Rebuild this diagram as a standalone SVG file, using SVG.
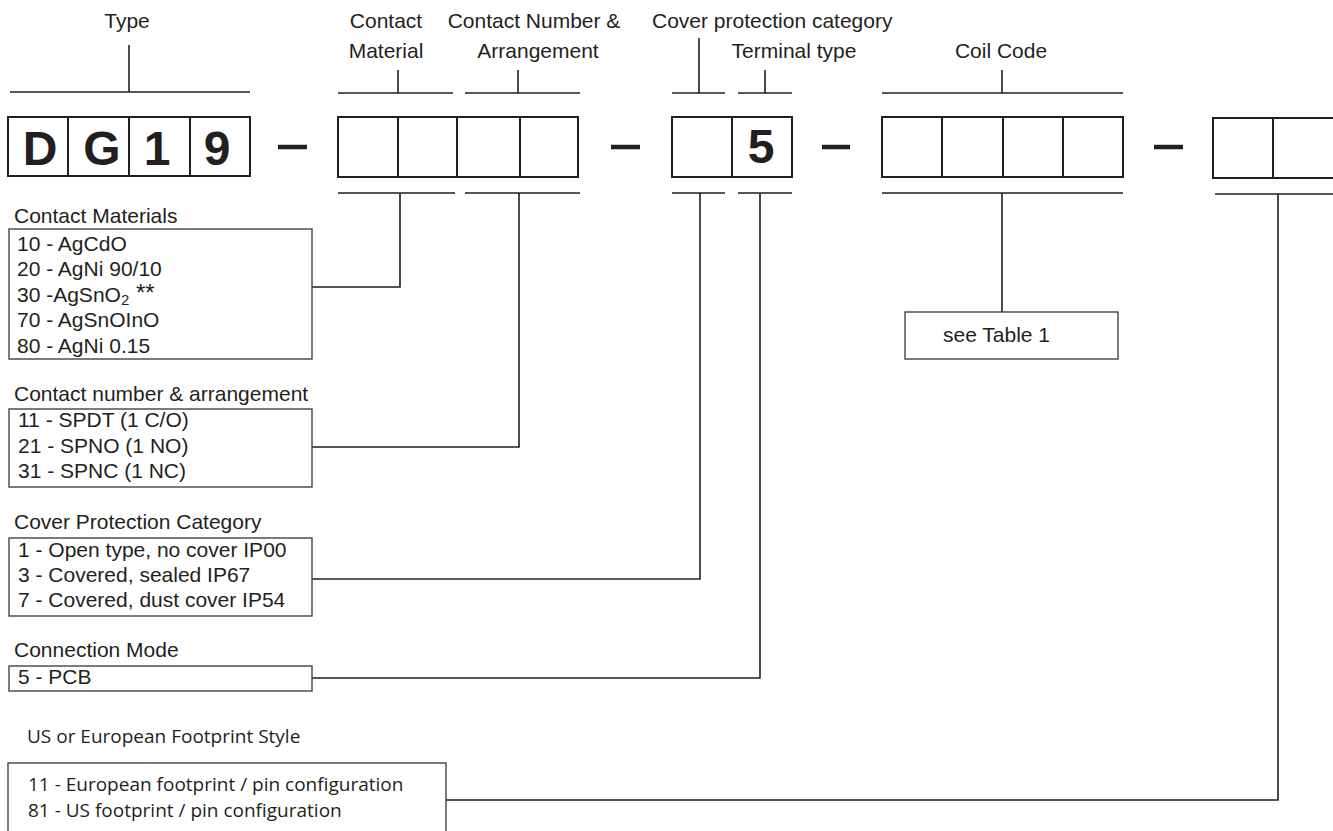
<svg xmlns="http://www.w3.org/2000/svg" width="1333" height="831" viewBox="0 0 1333 831">
<style>
.lbl{font-family:"Liberation Sans",Arial,sans-serif;font-size:21px;fill:#231f20}
.mid{text-anchor:middle}
.big{font-family:"Liberation Sans",Arial,sans-serif;font-size:48px;font-weight:bold;fill:#231f20;text-anchor:middle}
.hum{font-family:"Open Sans","Noto Sans",sans-serif;font-size:19px;fill:#231f20}
.cell{fill:#fff;stroke:#231f20;stroke-width:2}
.tbox{fill:#fff;stroke:#444;stroke-width:1.4}
.ln{fill:none;stroke:#231f20;stroke-width:1.6}
.dash{stroke:#231f20;stroke-width:4.5}
</style>
<rect width="1333" height="831" fill="#fff"/>

<g id="top-labels">
<text class="lbl mid" x="127" y="28">Type</text>
<text class="lbl mid" x="386" y="28">Contact</text>
<text class="lbl mid" x="386" y="58">Material</text>
<text class="lbl mid" x="534" y="28">Contact Number &amp;</text>
<text class="lbl mid" x="538" y="58">Arrangement</text>
<text class="lbl" x="652" y="28">Cover protection category</text>
<text class="lbl mid" x="794" y="58">Terminal type</text>
<text class="lbl mid" x="1001" y="58">Coil Code</text>
</g>

<g id="brackets" class="ln">
<path d="M129 45V92M10 92H250"/>
<path d="M398 70V93M338 93H453"/>
<path d="M518 70V93M465 93H580"/>
<path d="M699 38V93M672 93H725"/>
<path d="M765 70V93M738 93H792"/>
<path d="M1002 70V93M882 93H1123"/>
</g>

<g id="code-type">
<rect class="cell" x="8" y="117" width="242" height="59"/>
<path class="ln" style="stroke-width:2" d="M68 117V176M129 117V176M190 117V176"/>
<text class="big" x="40" y="165">D</text>
<text class="big" x="102" y="165">G</text>
<text class="big" x="157" y="165">1</text>
<text class="big" x="217" y="165">9</text>
</g>

<g id="code-contact">
<rect class="cell" x="338" y="117" width="240" height="60"/>
<path class="ln" style="stroke-width:2" d="M398 117V177M457 117V177M520 117V177"/>
</g>

<g id="code-cover">
<rect class="cell" x="672" y="117" width="120" height="60"/>
<path class="ln" style="stroke-width:2" d="M732 117V177"/>
<text class="big" x="761" y="163">5</text>
</g>

<g id="code-coil">
<rect class="cell" x="882" y="117" width="241" height="60"/>
<path class="ln" style="stroke-width:2" d="M942 117V177M1003 117V177M1063 117V177"/>
</g>

<g id="code-footprint">
<rect class="cell" x="1213" y="118" width="130" height="60"/>
<path class="ln" style="stroke-width:2" d="M1273 118V178"/>
</g>

<g id="dashes">
<line class="dash" x1="278" y1="147" x2="307" y2="147"/>
<line class="dash" x1="611" y1="147" x2="640" y2="147"/>
<line class="dash" x1="822" y1="147" x2="850" y2="147"/>
<line class="dash" x1="1154" y1="147" x2="1183" y2="147"/>
</g>

<g id="connectors" class="ln">
<path d="M338 193H455M400 193V287H312"/>
<path d="M465 193H580M519 193V447H312"/>
<path d="M672 193H725M700 193V579H312"/>
<path d="M738 193H792M760 193V678H312"/>
<path d="M882 193H1123M1002 193V312"/>
<path d="M1215 194H1333M1278 194V800H446"/>
</g>

<g id="contact-materials">
<text class="lbl" x="14" y="223">Contact Materials</text>
<rect class="tbox" x="9" y="229" width="303" height="130"/>
<text class="lbl" x="17" y="251">10 - AgCdO</text>
<text class="lbl" x="17" y="276">20 - AgNi 90/10</text>
<text class="lbl" x="17" y="302">30 -AgSnO<tspan font-size="15" dy="3">2</tspan><tspan dy="-4" font-size="24"> **</tspan></text>
<text class="lbl" x="17" y="327">70 - AgSnOInO</text>
<text class="lbl" x="17" y="353">80 - AgNi 0.15</text>
</g>

<g id="contact-number">
<text class="lbl" x="14" y="401">Contact number &amp; arrangement</text>
<rect class="tbox" x="9" y="409" width="303" height="78"/>
<text class="lbl" x="18" y="427">11 - SPDT (1 C/O)</text>
<text class="lbl" x="18" y="453">21 - SPNO (1 NO)</text>
<text class="lbl" x="18" y="478">31 - SPNC (1 NC)</text>
</g>

<g id="cover-protection">
<text class="lbl" x="14" y="529">Cover Protection Category</text>
<rect class="tbox" x="9" y="538" width="303" height="78"/>
<text class="lbl" x="18" y="557">1 - Open type, no cover IP00</text>
<text class="lbl" x="18" y="582">3 - Covered, sealed IP67</text>
<text class="lbl" x="18" y="607">7 - Covered, dust cover IP54</text>
</g>

<g id="connection-mode">
<text class="lbl" x="14" y="657">Connection Mode</text>
<rect class="tbox" x="9" y="666" width="303" height="25"/>
<text class="lbl" x="18" y="684">5 - PCB</text>
</g>

<g id="coil-table">
<rect class="tbox" x="905" y="312" width="213" height="47"/>
<text class="lbl" x="943" y="342">see Table 1</text>
</g>

<g id="footprint-style">
<text class="hum" x="27" y="743">US or European Footprint Style</text>
<rect class="tbox" x="8" y="763" width="438" height="80"/>
<text class="hum" x="28" y="791">11 - European footprint / pin configuration</text>
<text class="hum" x="28" y="817">81 - US footprint / pin configuration</text>
</g>
</svg>
